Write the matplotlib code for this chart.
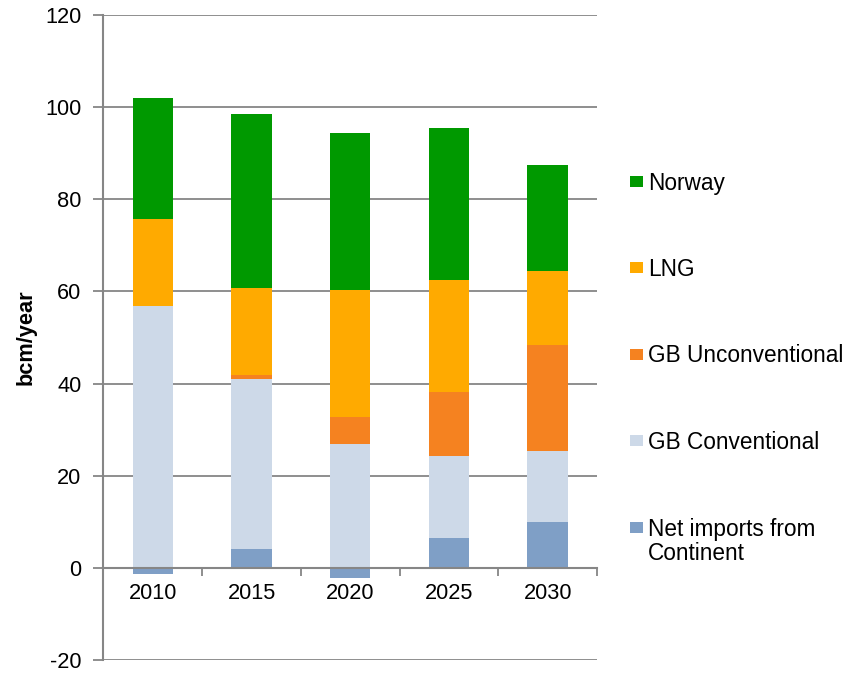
import matplotlib
matplotlib.use("Agg")
import matplotlib.pyplot as plt
import numpy as np
from matplotlib.patches import Rectangle

plt.rcParams['font.family'] = ['Liberation Sans', 'DejaVu Sans']
plt.rcParams['axes.unicode_minus'] = False

years = ['2010', '2015', '2020', '2025', '2030']
net_imports = [-1.3, 4.1, -2.2, 6.5, 9.9]
gb_conventional = [56.9, 37.0, 26.9, 17.8, 15.5]
gb_unconventional = [0.0, 0.8, 5.9, 13.8, 22.9]
lng = [18.8, 18.8, 27.5, 24.4, 16.2]
norway = [26.3, 37.9, 34.2, 32.9, 22.9]

series = [
    ('Net imports from\nContinent', net_imports, '#7F9FC6'),
    ('GB Conventional', gb_conventional, '#CDD9E8'),
    ('GB Unconventional', gb_unconventional, '#F58220'),
    ('LNG', lng, '#FFAA00'),
    ('Norway', norway, '#009900'),
]

W, H = 849, 674
fig = plt.figure(figsize=(W / 100, H / 100), dpi=100)
ax = fig.add_axes([0.1219, 0.0208, 0.5813, 0.9569])

x = np.arange(len(years))
width = 0.41
pos_base = np.zeros(len(years))
neg_base = np.zeros(len(years))
for label, vals, color in series:
    v = np.array(vals, dtype=float)
    base = np.where(v >= 0, pos_base, neg_base)
    ax.bar(x, v, width, bottom=base, color=color, edgecolor='none', zorder=3)
    pos_base = pos_base + np.where(v >= 0, v, 0)
    neg_base = neg_base + np.where(v < 0, v, 0)

grid_c = '#868686'
ax.set_ylim(-20, 120)
ax.set_yticks(np.arange(-20, 121, 20))
ax.set_xlim(-0.5, len(years) - 0.5)
ax.yaxis.grid(True, color=grid_c, linewidth=1.3, zorder=0)
ax.set_axisbelow(True)

for s in ['top', 'right']:
    ax.spines[s].set_visible(False)
ax.spines['left'].set_color(grid_c)
ax.spines['left'].set_linewidth(1.5)
ax.spines['bottom'].set_position(('data', 0))
ax.spines['bottom'].set_color(grid_c)
ax.spines['bottom'].set_linewidth(1.5)
ax.spines['bottom'].set_zorder(4)

ax.set_xticks(x)
ax.set_xticklabels(years)
ax.set_xticks(np.arange(-0.5, len(years), 1.0), minor=True)
ax.tick_params(axis='x', which='major', length=0, pad=11, labelsize=15.7)
ax.tick_params(axis='x', which='minor', length=6, width=1.3, color=grid_c, direction='out')
ax.tick_params(axis='y', length=7, width=1.3, color=grid_c, direction='out', labelsize=15.7, pad=9)

ax.set_ylabel('bcm/year', fontsize=15.7, fontweight='bold', labelpad=6)

# Legend drawn as figure-level squares and labels (top entry first)
first_baselines = [190, 276, 362.5, 449, 536]
line_step = 24
for (label, _, color), yb in zip(reversed(series), first_baselines):
    fig.patches.append(Rectangle((630 / W, 1 - (yb - 3) / H), 13 / W, 11 / H,
                                 transform=fig.transFigure, facecolor=color,
                                 edgecolor='none'))
    n_extra = label.count('\n')
    fig.text(648 / W, 1 - (yb + n_extra * line_step) / H, label, fontsize=16.3,
             va='baseline', ha='left', linespacing=1.08)

fig.savefig('out.png', dpi=100)
